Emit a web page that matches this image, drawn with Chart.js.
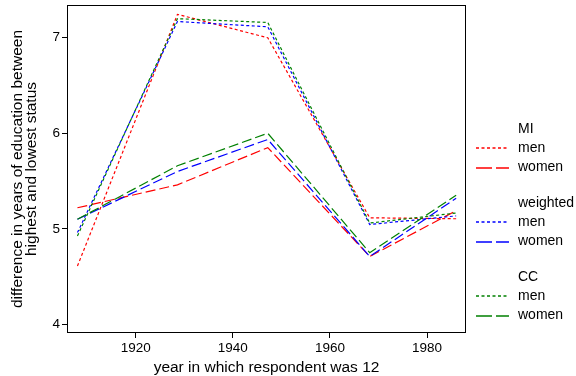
<!DOCTYPE html>
<html>
<head>
<meta charset="utf-8">
<script src="https://cdn.jsdelivr.net/npm/chart.js@4"></script>
<style>
html,body{margin:0;padding:0;background:#fff;}
#wrap{width:576px;height:376px;}
</style>
</head>
<body>
<div id="wrap"><canvas id="c" width="576" height="376"></canvas></div>
<script>
// ---- data ----
const years = [1908, 1928.6, 1947.2, 1968.2, 1986];
const miMen = [4.61, 7.245, 7.0, 5.115, 5.105];
const miWomen = [5.22, 5.46, 5.85, 4.71, 5.19];
const wMen = [4.96, 7.17, 7.115, 5.045, 5.135];
const wWomen = [5.10, 5.60, 5.935, 4.71, 5.32];
const ccMen = [4.925, 7.20, 7.16, 5.06, 5.165];
const ccWomen = [5.10, 5.66, 6.00, 4.75, 5.35];
const xTicks = [1920, 1940, 1960, 1980];
const yTicks = [4, 5, 6, 7];
const groups = ['MI', 'weighted', 'CC'];
const sexes = ['men', 'women'];
const xTitle = 'year in which respondent was 12';
const yTitle = ['difference in years of education between', 'highest and lowest status'];

const colors = ['#ff0000', '#0000ff', '#008000'];
const dotted = [3, 2.5];
const dashed = [10, 4];
const FONT = '"Liberation Sans", Arial, Helvetica, sans-serif';

function pts(vals){ return years.map((x,i)=>({x:x, y:vals[i]})); }

const seriesVals = [[miMen, miWomen],[wMen, wWomen],[ccMen, ccWomen]];
const datasets = [];
groups.forEach((g, gi) => {
  sexes.forEach((s, si) => {
    datasets.push({
      label: g + ' ' + s,
      data: pts(seriesVals[gi][si]),
      borderColor: colors[gi],
      backgroundColor: colors[gi],
      borderWidth: 1.2,
      borderDash: si === 0 ? dotted : dashed,
      pointRadius: 0,
      tension: 0,
      fill: false,
      order: 10 - gi*2 - si
    });
  });
});

const boxPlugin = {
  id: 'box',
  afterDatasetsDraw(chart){
    const {ctx, chartArea:a} = chart;
    ctx.save();
    ctx.strokeStyle = '#000';
    ctx.lineWidth = 1;
    ctx.strokeRect(Math.round(a.left)+0.5, Math.round(a.top)+0.5, Math.round(a.right-a.left)-1, Math.round(a.bottom-a.top)-1);
    ctx.restore();
  }
};

const legendPlugin = {
  id: 'grpLegend',
  afterDraw(chart){
    const ctx = chart.ctx;
    ctx.save();
    ctx.font = '14px ' + FONT;
    ctx.textBaseline = 'middle';
    ctx.textAlign = 'left';
    const headY = [129, 203, 277];
    groups.forEach((g, gi) => {
      ctx.fillStyle = '#000';
      ctx.fillText(g, 518, headY[gi]);
      sexes.forEach((s, si) => {
        const y = headY[gi] + 19.3 * (si + 1);
        ctx.fillStyle = '#000';
        ctx.fillText(s, 518, y);
        ctx.save();
        ctx.strokeStyle = colors[gi];
        ctx.lineWidth = 1.3;
        ctx.setLineDash(si === 0 ? [3, 2.5] : [16, 4]);
        ctx.beginPath();
        ctx.moveTo(476, Math.round(y));
        ctx.lineTo(509, Math.round(y));
        ctx.stroke();
        ctx.restore();
      });
    });
    ctx.restore();
  }
};

new Chart(document.getElementById('c'), {
  type: 'line',
  data: { datasets },
  options: {
    responsive: false,
    animation: false,
    devicePixelRatio: 1,
    layout: { padding: { top: 5, right: 110, left: 0, bottom: 0 } },
    plugins: { legend: { display: false }, tooltip: { enabled: false } },
    scales: {
      x: {
        type: 'linear',
        min: 1905.85,
        max: 1988.03,
        afterBuildTicks(s){ s.ticks = xTicks.map(v => ({value: v})); },
        afterFit(s){ s.height = 43; s.paddingLeft = 0; s.paddingRight = 0; },
        grid: { drawOnChartArea: false, drawTicks: true, tickLength: 5, color: '#000', lineWidth: 1 },
        border: { display: false },
        ticks: { color: '#000', font: { family: FONT, size: 13.5 }, padding: 2, maxRotation: 0, callback: v => String(v) },
        title: { display: true, text: xTitle, color: '#000', font: { family: FONT, size: 15.5, lineHeight: 1.0 }, padding: { top: 0, bottom: 0.5 } }
      },
      y: {
        type: 'linear',
        min: 3.909,
        max: 7.343,
        afterBuildTicks(s){ s.ticks = yTicks.map(v => ({value: v})); },
        afterFit(s){ s.width = 67; s.paddingTop = 0; s.paddingBottom = 0; },
        grid: { drawOnChartArea: false, drawTicks: true, tickLength: 5, color: '#000', lineWidth: 1 },
        border: { display: false },
        ticks: { color: '#000', font: { family: FONT, size: 13.5 }, padding: 2, callback: v => String(v) },
        title: { display: true, text: yTitle, color: '#000', font: { family: FONT, size: 15.5, lineHeight: 0.9 }, padding: { top: 11, bottom: 0 } }
      }
    }
  },
  plugins: [boxPlugin, legendPlugin]
});
</script>
</body>
</html>
